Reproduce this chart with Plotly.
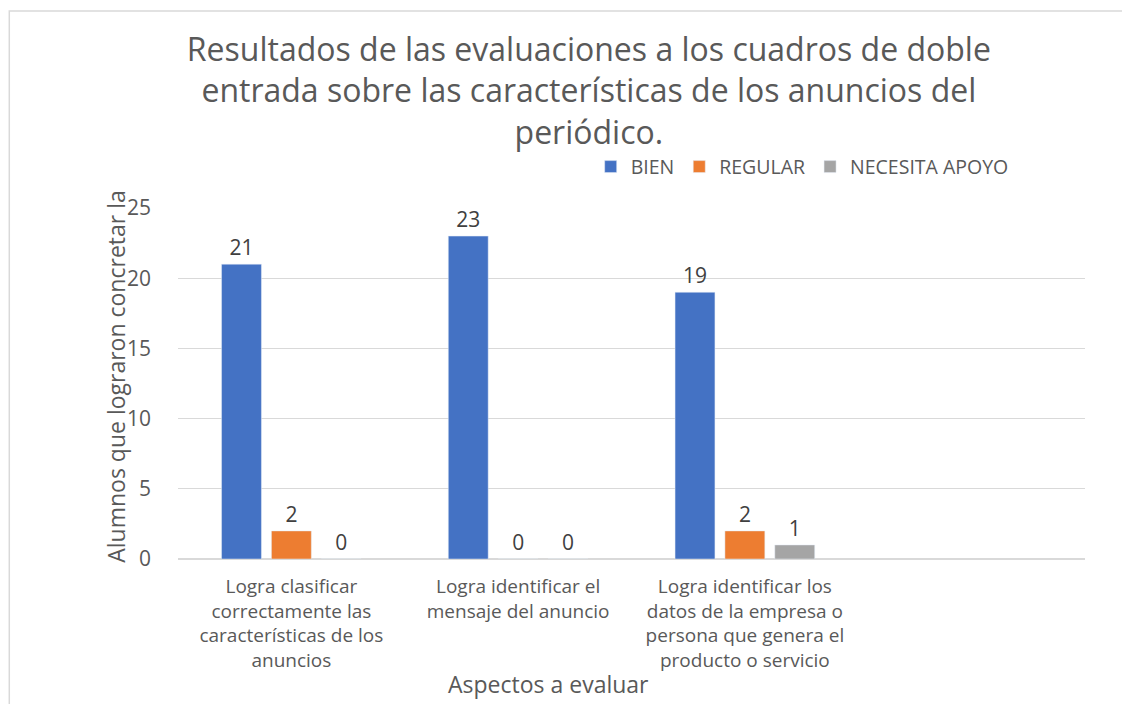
import plotly.graph_objects as go

aspectos = [
    'Logra clasificar<br>correctamente las<br>características de los<br>anuncios',
    'Logra identificar el<br>mensaje del anuncio',
    'Logra identificar los<br>datos de la empresa o<br>persona que genera el<br>producto o servicio',
]
bien = [21, 23, 19]
regular = [2, 0, 2]
necesita_apoyo = [0, 0, 1]

FONT = 'Open Sans'
GREY = '#595959'


def build_figure() -> go.Figure:
    figure = go.Figure()
    for name, values, color in (
        ('BIEN', bien, '#4472C4'),
        ('REGULAR', regular, '#ED7D31'),
        ('NECESITA APOYO', necesita_apoyo, '#A5A5A5'),
    ):
        figure.add_trace(
            go.Bar(
                x=aspectos,
                y=values,
                name=name,
                marker={'color': color},
                text=values,
                textposition='outside',
                textfont={'size': 21, 'color': '#404040', 'family': FONT},
                cliponaxis=False,
            )
        )

    figure.update_layout(
        width=1122,
        height=696,
        paper_bgcolor='white',
        plot_bgcolor='white',
        font={'family': FONT, 'color': GREY},
        margin={'l': 170, 'r': 45, 't': 200, 'b': 145},
        barmode='group',
        bargap=0.34,
        bargroupgap=0.2,
        title={
            'text': 'Resultados de las evaluaciones a los cuadros de doble<br>'
                    'entrada sobre las características de los anuncios del<br>'
                    'periódico.',
            'xref': 'paper',
            'x': 0.453,
            'xanchor': 'center',
            'yref': 'container',
            'y': 0.924,
            'yanchor': 'top',
            'font': {'size': 32, 'color': GREY, 'family': FONT},
        },
        legend={
            'orientation': 'h',
            'x': 0.455,
            'xanchor': 'left',
            'y': 1.117,
            'yanchor': 'middle',
            'font': {'size': 19.5, 'color': GREY, 'family': FONT},
            'bgcolor': 'rgba(0,0,0,0)',
        },
        xaxis={
            'range': [-0.5, 3.5],
            'showgrid': False,
            'showline': False,
            'ticks': '',
            'tickfont': {'size': 19, 'color': GREY},
            'tickangle': 0,
            'ticklabelstandoff': 14,
        },
        yaxis={
            'range': [0, 25],
            'dtick': 5,
            'showgrid': True,
            'gridcolor': '#D9D9D9',
            'gridwidth': 1,
            'zeroline': True,
            'zerolinecolor': '#D9D9D9',
            'zerolinewidth': 1.5,
            'ticks': '',
            'tickfont': {'size': 21, 'color': GREY},
            'ticklabelstandoff': 26,
        },
        annotations=[
            {
                'text': 'Alumnos que lograron concretar la',
                'xref': 'paper', 'yref': 'paper',
                'x': -0.068, 'y': 0.52,
                'xanchor': 'center', 'yanchor': 'middle',
                'textangle': -90,
                'showarrow': False,
                'font': {'size': 23, 'color': GREY},
            },
            {
                'text': 'Aspectos a evaluar',
                'xref': 'paper', 'yref': 'paper',
                'x': 0.408, 'y': -0.356,
                'xanchor': 'center', 'yanchor': 'middle',
                'showarrow': False,
                'font': {'size': 23, 'color': GREY},
            },
        ],
        shapes=[
            {
                'type': 'rect',
                'xref': 'paper', 'yref': 'paper',
                'x0': -0.186, 'x1': 1.2,
                'y0': -0.6, 'y1': 1.561,
                'line': {'color': '#D9D9D9', 'width': 1.5},
                'layer': 'below',
            },
        ],
    )
    return figure


fig = build_figure()
fig.write_html('out.html')
